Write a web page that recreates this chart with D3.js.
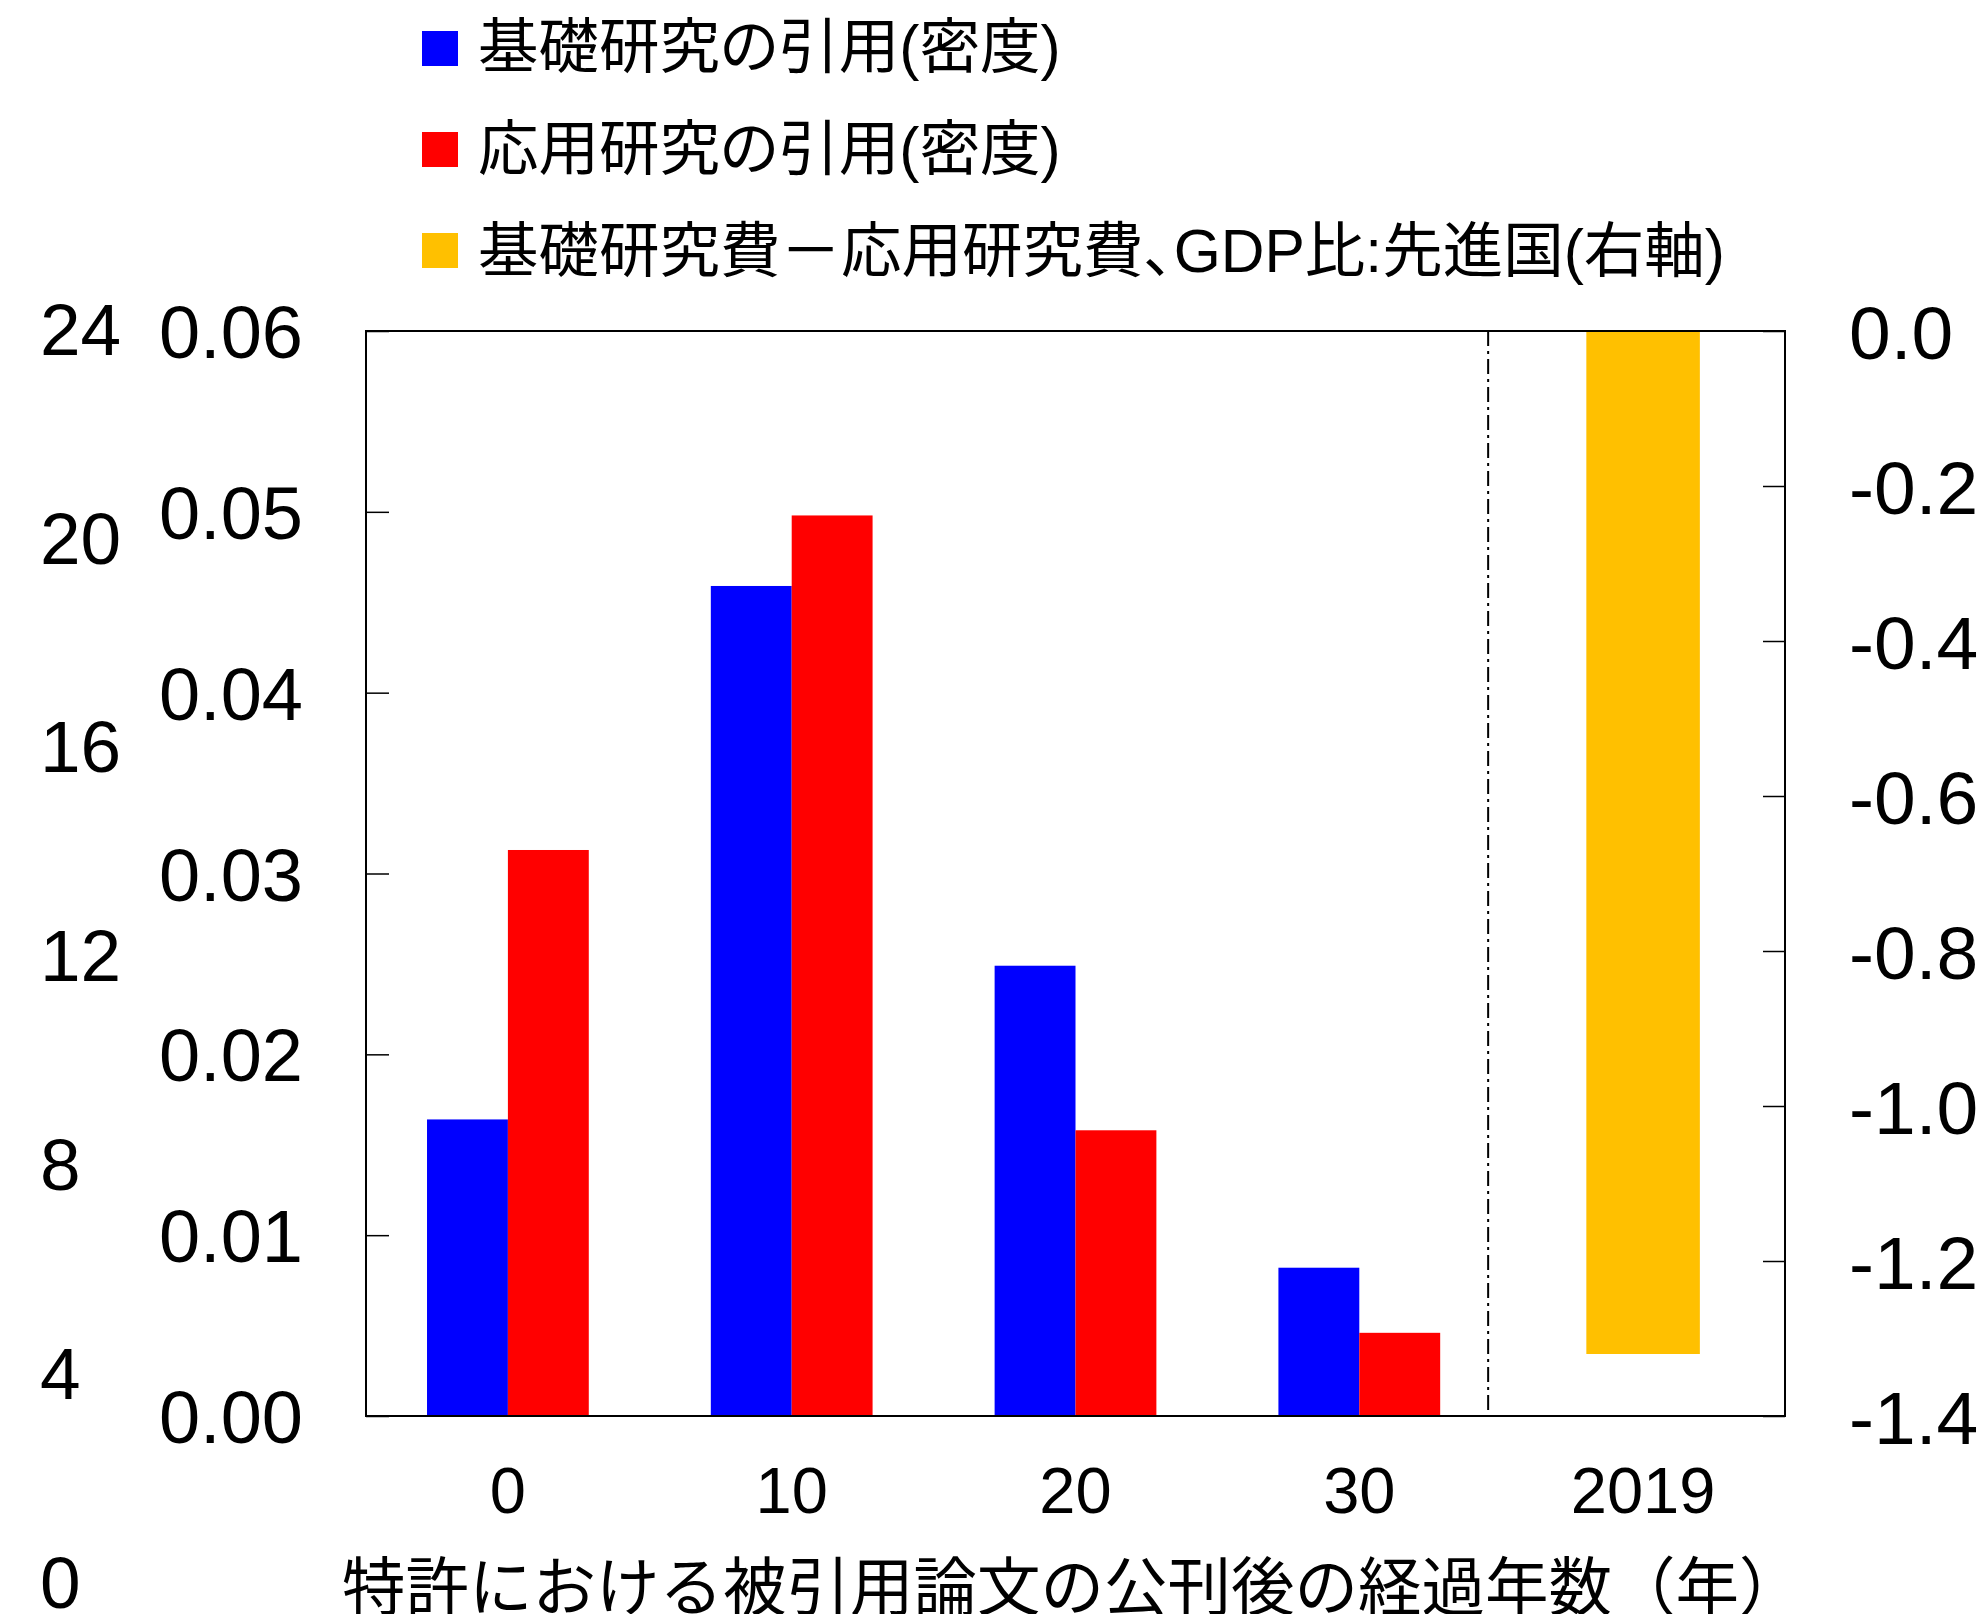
<!DOCTYPE html>
<html>
<head>
<meta charset="utf-8">
<script src="https://cdn.jsdelivr.net/npm/d3@7"></script>
<style>
  html, body { margin: 0; padding: 0; background: #fff; }
  svg { display: block; }
  text { font-family: "Liberation Sans", Arial, "Noto Sans CJK JP", sans-serif; fill: #000; }
  .palt { font-feature-settings: "palt" 1; }
</style>
</head>
<body>
<svg id="chart" width="1982" height="1614"></svg>
<script>
// Years elapsed since the cited paper was published
const categories = ["0", "10", "20", "30"];
const spendCategory = "2019";

// Citation density in patents
const basicCitations = [0.0164, 0.0459, 0.0249, 0.0082];
const appliedCitations = [0.0313, 0.0498, 0.0158, 0.0046];

// Basic minus applied R&D spending, % of GDP, advanced economies (right axis)
const spendGap = [-1.32];

const leftTicks = [0, 0.01, 0.02, 0.03, 0.04, 0.05, 0.06];
const rightTicks = [0, -0.2, -0.4, -0.6, -0.8, -1.0, -1.2, -1.4];
const outerTicks = [0, 4, 8, 12, 16, 20, 24];

const seriesNames = [
  "基礎研究の引用(密度)",
  "応用研究の引用(密度)",
  "基礎研究費－応用研究費、GDP比:先進国(右軸)"
];
const seriesColors = ["#0000FF", "#FF0000", "#FFC000"];
const xTitle = "特許における被引用論文の公刊後の経過年数（年）";

const svg = d3.select("#chart");
const plot = { left: 366, right: 1785, top: 331, bottom: 1416 };

const x = d3.scaleBand()
  .domain([...categories, spendCategory])
  .range([plot.left, plot.right]);
const groupWidth = x.bandwidth() * 0.57;
const xs = d3.scaleBand().domain(["basic", "applied"]).range([0, groupWidth]);

const yLeft = d3.scaleLinear().domain([0, 0.06]).range([plot.bottom, plot.top]);
const yRight = d3.scaleLinear().domain([-1.4, 0]).range([plot.bottom, plot.top]);
const yOuter = d3.scaleLinear().domain([0, 24]).range([1581, 328]);

// Bars: citation density
const rows = categories.map((c, i) => ({ c, basic: basicCitations[i], applied: appliedCitations[i] }));
const barG = svg.append("g");
["basic", "applied"].forEach((key, k) => {
  barG.selectAll(null).data(rows).enter().append("rect")
    .attr("x", d => x(d.c) + (x.bandwidth() - groupWidth) / 2 + xs(key))
    .attr("width", xs.bandwidth())
    .attr("y", d => yLeft(d[key]))
    .attr("height", d => yLeft(0) - yLeft(d[key]))
    .attr("fill", seriesColors[k]);
});

// Bar: spending gap on the right axis (hangs down from zero)
const goldW = x.bandwidth() * 0.40;
barG.selectAll(null).data(spendGap).enter().append("rect")
  .attr("x", x(spendCategory) + (x.bandwidth() - goldW) / 2)
  .attr("width", goldW)
  .attr("y", yRight(0))
  .attr("height", d => yRight(d) - yRight(0))
  .attr("fill", seriesColors[2]);

// Divider between citation panel and spending panel
const divX = x(spendCategory) - x.step() * 0.046;
svg.append("line")
  .attr("x1", divX).attr("x2", divX)
  .attr("y1", plot.top).attr("y2", plot.bottom)
  .attr("stroke", "#000").attr("stroke-width", 2)
  .attr("stroke-dasharray", "15,5,3,5");

// Frame
svg.append("rect")
  .attr("x", plot.left).attr("y", plot.top)
  .attr("width", plot.right - plot.left).attr("height", plot.bottom - plot.top)
  .attr("fill", "none").attr("stroke", "#000").attr("stroke-width", 2);

// Left axis (inward ticks)
const leftAxis = svg.append("g")
  .attr("transform", `translate(${plot.left},0)`)
  .call(d3.axisLeft(yLeft).tickValues(leftTicks).tickSize(-23)
    .tickFormat(d3.format(".2f")));
leftAxis.select(".domain").remove();
leftAxis.selectAll(".tick line").attr("stroke", "#000").attr("stroke-width", 1.5);
leftAxis.selectAll("text").attr("font-size", 74).attr("dy", "0.36em").attr("x", 303 - plot.left);

// Right axis (inward ticks)
const rightAxis = svg.append("g")
  .attr("transform", `translate(${plot.right},0)`)
  .call(d3.axisRight(yRight).tickValues(rightTicks).tickSize(-22)
    .tickFormat(d => d3.format(".1f")(d).replace("−", "-")));
rightAxis.select(".domain").remove();
rightAxis.selectAll(".tick line").attr("stroke", "#000").attr("stroke-width", 1.5);
rightAxis.selectAll("text").attr("font-size", 75).attr("dy", "0.36em").attr("x", 1849 - plot.right);

// Outer left scale (labels only)
const outerAxis = svg.append("g")
  .call(d3.axisLeft(yOuter).tickValues(outerTicks).tickSize(0));
outerAxis.select(".domain").remove();
outerAxis.selectAll("text").attr("font-size", 73).attr("dy", "0.36em")
  .attr("text-anchor", "start").attr("x", 40);

// Bottom category labels
const xAxis = svg.append("g")
  .attr("transform", `translate(0,${plot.bottom})`)
  .call(d3.axisBottom(x).tickSize(0));
xAxis.select(".domain").remove();
xAxis.selectAll("text").attr("font-size", 65).attr("dy", 0).attr("y", 1513 - plot.bottom);

// X axis title
svg.append("text")
  .attr("x", 342).attr("y", 1610)
  .attr("text-anchor", "start")
  .attr("font-size", 63.5)
  .text(xTitle);

// Legend
const legend = svg.append("g").attr("class", "palt");
seriesNames.forEach((name, i) => {
  legend.append("rect")
    .attr("x", 422).attr("y", 31 + i * 101)
    .attr("width", 36).attr("height", 35)
    .attr("fill", seriesColors[i]);
  legend.append("text")
    .attr("x", 478).attr("y", 68 + i * 102)
    .attr("font-size", 60.5)
    .text(name);
});
</script>
</body>
</html>
